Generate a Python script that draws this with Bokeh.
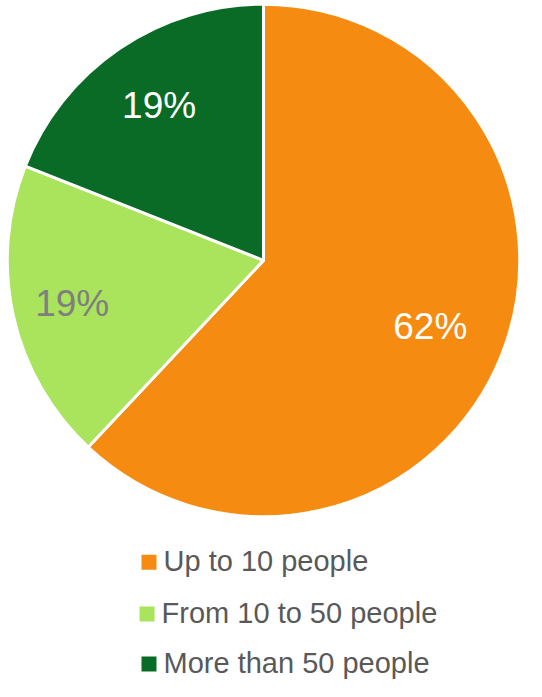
import math
from bokeh.plotting import figure
from bokeh.models import Range1d, ColumnDataSource
from bokeh.core.properties import value
from bokeh.embed import file_html
from bokeh.resources import INLINE

categories = ["Up to 10 people", "From 10 to 50 people", "More than 50 people"]
values = [62, 19, 19]
labels = ["62%", "19%", "19%"]
colors = ["#F68B12", "#AAE35C", "#0A6B27"]
label_colors = ["#FFFFFF", "#7F7F7F", "#FFFFFF"]
label_frac = [0.70, 0.765, 0.725]

W, H = 526, 681
RW, RH = 542, 697
p = figure(width=W, height=H, output_backend="svg", toolbar_location=None,
           x_range=Range1d(0, RW), y_range=Range1d(0, RH),
           min_border=0, background_fill_color="white", border_fill_color="white")
p.axis.visible = False
p.grid.visible = False
p.outline_line_color = None

def sy(ref_y):
    return RH - ref_y

cx, cy, r = 271, sy(266), 264
total = sum(values)
starts, ends, lx, ly = [], [], [], []
cum = 0.0
for v, f in zip(values, label_frac):
    a0 = math.pi / 2 - 2 * math.pi * cum / total
    cum += v
    a1 = math.pi / 2 - 2 * math.pi * cum / total
    starts.append(a0)
    ends.append(a1)
    mid = (a0 + a1) / 2
    lx.append(cx + f * r * math.cos(mid))
    ly.append(cy + f * r * math.sin(mid))

src = ColumnDataSource(dict(start=starts, end=ends, color=colors,
                            lx=lx, ly=ly, label=labels, lc=label_colors))
p.wedge(x=cx, y=cy, radius=r, start_angle="start", end_angle="end",
        direction="clock", fill_color="color", line_color="white",
        line_width=3, source=src)
p.text(x="lx", y="ly", text="label", text_color="lc", source=src,
       text_font=value("Liberation Sans"), text_font_size="37px",
       text_align="center", text_baseline="middle")

# legend
leg_mid = [574, 627, 678]
leg_sq_x = [153, 151, 153]
leg_sq_y = [575, 628, 679]
leg_tx = [168, 166, 168]
lsrc = ColumnDataSource(dict(
    sx=leg_sq_x, sqy=[sy(v) for v in leg_sq_y],
    tx=leg_tx, ty=[sy(v) for v in leg_mid],
    color=colors, cat=categories))
p.rect(x="sx", y="sqy", width=15, height=15, width_units="screen",
       height_units="screen", fill_color="color", line_color=None, source=lsrc)
p.text(x="tx", y="ty", text="cat", source=lsrc, text_color="#595959",
       text_font=value("Liberation Sans"), text_font_size="29px",
       text_align="left", text_baseline="middle")

open("out.html", "w").write(file_html(p, INLINE))
